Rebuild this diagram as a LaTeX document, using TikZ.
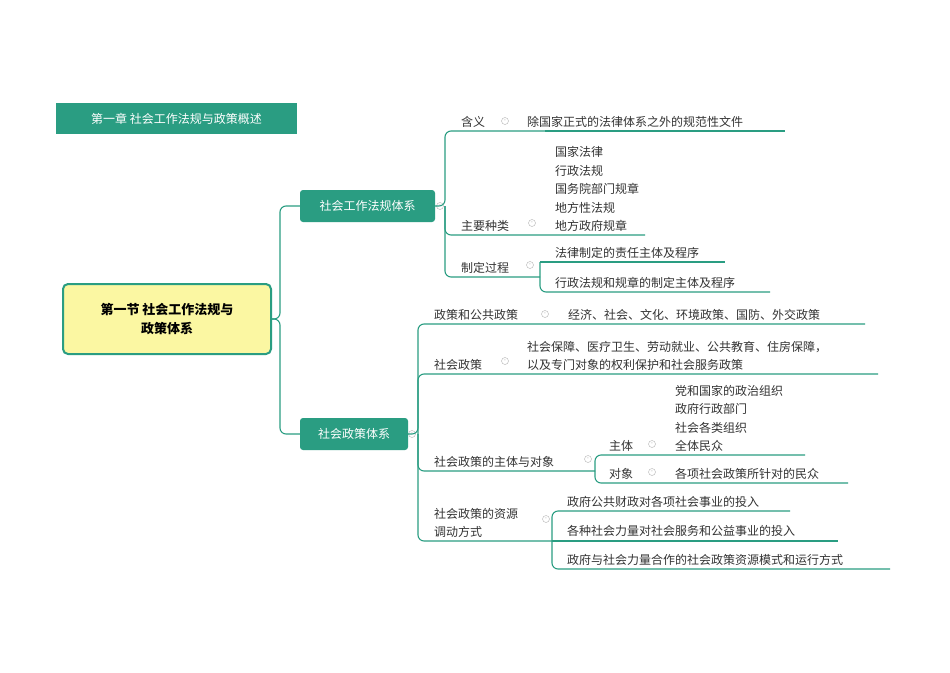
\documentclass[tikz,border=0pt]{standalone}
\usepackage{fontspec}
\newfontfamily\cjk{Noto Sans CJK SC}
\definecolor{mapgreen}{HTML}{2A9D82}
\definecolor{rootfill}{HTML}{FBF7A2}
\definecolor{txt}{HTML}{333333}
\tikzset{
  topic/.style={fill=mapgreen, text=white, rounded corners=3pt, minimum height=32pt, inner xsep=8pt},
  leaf/.style={text=txt, inner sep=0pt, align=left},
  branch/.style={draw=mapgreen, line width=1.1pt, rounded corners=6pt},
  fold/.style={draw=gray!60, fill=white, circle, inner sep=0pt, minimum size=7pt, font=\tiny, text=gray!70}
}
\begin{document}
\begin{tikzpicture}[x=1pt,y=-1pt,font=\cjk\fontsize{12}{18}\selectfont]
    \useasboundingbox[fill=white] (0,0) rectangle (950,672);

    % Chapter title
    \node[fill=mapgreen, text=white, minimum width=241pt, minimum height=31pt] (chapter) at (176.5,118.5) {第一章 社会工作法规与政策概述};

    % Root
    \node[draw=mapgreen, line width=2pt, fill=rootfill, rounded corners=5pt, minimum width=208pt, minimum height=70pt, align=center, font=\cjk\bfseries\fontsize{13}{19}\selectfont] (root) at (167,319) {第一节 社会工作法规与\\政策体系};

    % Main branches
    \node[topic, minimum width=135pt] (laws) at (367.5,206) {社会工作法规体系};
    \node[topic, minimum width=108pt] (policy) at (354,434) {社会政策体系};
    \draw[branch] (root.east) -- (280,319) |- (laws.west);
    \draw[branch] (root.east) -- (280,319) |- (policy.west);
    \node[fold] at (440,206) {-};
    \node[fold] at (412,434) {-};

    % Laws: meaning
    \draw[branch] (laws.east) -- (445,206) |- (545,131);
    \node[leaf, anchor=south west] (meaning) at (461,128) {含义};
    \node[fold] at (505,121) {-};
    \draw[branch] (545,131) -- (785,131);
    \node[leaf, anchor=south west] (meaningtxt) at (527,128) {除国家正式的法律体系之外的规范性文件};

    % Laws: kinds
    \draw[branch] (445,206) |- (545,235) -- (645,235);
    \node[leaf, anchor=south west] (kinds) at (461,232) {主要种类};
    \node[fold] at (532,223) {-};
    \node[leaf, anchor=south west, font=\cjk\fontsize{12}{18.5}\selectfont] (kindlist) at (555,232) {国家法律\\行政法规\\国务院部门规章\\地方性法规\\地方政府规章};

    % Laws: process
    \draw[branch] (445,206) |- (540,277);
    \node[leaf, anchor=south west] (process) at (461,274) {制定过程};
    \node[fold] at (530,265) {-};
    \draw[branch] (540,262) -- (725,262);
    \draw[branch] (540,262) |- (770,292);
    \node[leaf, anchor=south west] (process1) at (555,259) {法律制定的责任主体及程序};
    \node[leaf, anchor=south west] (process2) at (555,289) {行政法规和规章的制定主体及程序};

    % Policy: public policy
    \draw[branch] (policy.east) -- (418,434) |- (555,324) -- (865,324);
    \node[leaf, anchor=south west] (public) at (434,321) {政策和公共政策};
    \node[fold] at (545,314) {-};
    \node[leaf, anchor=south west] (publictxt) at (568,321) {经济、社会、文化、环境政策、国防、外交政策};

    % Policy: social policy
    \draw[branch] (418,434) |- (515,374) -- (878,374);
    \node[leaf, anchor=south west] (social) at (434,371) {社会政策};
    \node[fold] at (505,361) {-};
    \node[leaf, anchor=south west] (socialtxt) at (527,371) {社会保障、医疗卫生、劳动就业、公共教育、住房保障，\\以及专门对象的权利保护和社会服务政策};

    % Policy: subject and object
    \draw[branch] (418,434) |- (595,471);
    \node[leaf, anchor=south west] (subjobj) at (434,468) {社会政策的主体与对象};
    \node[fold] at (588,459) {-};
    \draw[branch] (595,471) |- (805,455);
    \draw[branch] (595,471) |- (848,483);
    \node[leaf, anchor=south west] (subject) at (609,452) {主体};
    \node[fold] at (652,444) {-};
    \node[leaf, anchor=south west, font=\cjk\fontsize{12}{18.5}\selectfont] (subjlist) at (675,452) {党和国家的政治组织\\政府行政部门\\社会各类组织\\全体民众};
    \node[leaf, anchor=south west] (object) at (609,480) {对象};
    \node[fold] at (652,472) {-};
    \node[leaf, anchor=south west] (objtxt) at (675,480) {各项社会政策所针对的民众};

    % Policy: resources
    \draw[branch] (418,434) |- (552,541);
    \node[leaf, anchor=south west] (resource) at (434,538) {社会政策的资源\\调动方式};
    \node[fold] at (546,519) {-};
    \draw[branch] (552,541) |- (790,511);
    \draw[branch] (552,541) -- (838,541);
    \draw[branch] (552,541) |- (890,569);
    \node[leaf, anchor=south west] (res1) at (567,508) {政府公共财政对各项社会事业的投入};
    \node[leaf, anchor=south west] (res2) at (567,537) {各种社会力量对社会服务和公益事业的投入};
    \node[leaf, anchor=south west] (res3) at (567,566) {政府与社会力量合作的社会政策资源模式和运行方式};
\end{tikzpicture}
\end{document}
